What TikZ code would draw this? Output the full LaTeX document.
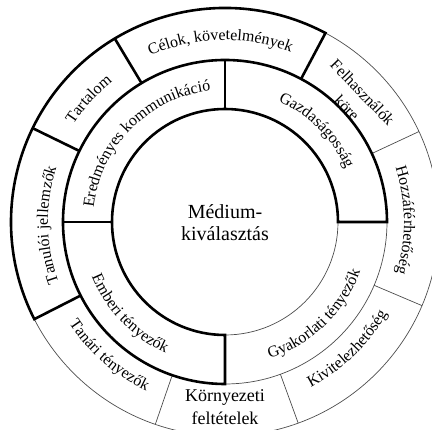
\documentclass[tikz,border=0pt]{standalone}
\usepackage{fontspec}
\setmainfont{Liberation Serif}
\usetikzlibrary{decorations.text}

\newcommand\lblfont{\fontsize{16}{19}\selectfont}

\begin{document}
\begin{tikzpicture}[
    x=1pt, y=1pt,
    thinline/.style={line width=0.7pt, draw=black!70},
    thickline/.style={line width=2.6pt, line join=miter},
    arclabel/.style={decorate, decoration={text along path, text align=center, text={|\lblfont|#1}}},
  ]
    \useasboundingbox (-225,-208) rectangle (207,222);
    \clip (-225,-208) rectangle (207,222);
    % thin circles and dividers
    \draw[thinline] (0,0) circle[radius=113pt];
    \draw[thinline] (0,0) circle[radius=162pt];
    \draw[thinline] (0,0) circle[radius=214pt];
    \foreach \a in {25,251,290,337}
        \draw[thinline] (\a:162pt) -- (\a:214pt);
    % thick outline
    \draw[thickline] (0:113pt) arc[start angle=0, end angle=270, radius=113pt] -- (270:162pt)
        arc[start angle=270, end angle=0, radius=162pt] -- cycle;
    \draw[thickline] (90:113pt) -- (90:162pt);
    \draw[thickline] (180:113pt) -- (180:162pt);
    \draw[thickline] (62:162pt) -- (62:214pt) arc[start angle=62, end angle=207, radius=214pt] -- (207:162pt);
    \draw[thickline] (121:162pt) -- (121:214pt);
    \draw[thickline] (154:162pt) -- (154:214pt);
    % middle ring labels
    \path[arclabel={Eredményes kommunikáció}] (215:132pt) arc[start angle=215, end angle=55, radius=132pt];
    \path[arclabel={Gazdaságosság}] (105:132pt) arc[start angle=105, end angle=-15, radius=132pt];
    \path[arclabel={Emberi tényezők}] (164:144pt) arc[start angle=164, end angle=284, radius=144pt];
    \path[arclabel={Gyakorlati tényezők}] (254:144pt) arc[start angle=254, end angle=374, radius=144pt];
    % outer ring labels
    \path[arclabel={Célok, követelmények}] (151.5:182pt) arc[start angle=151.5, end angle=31.5, radius=182pt];
    \path[arclabel={Tartalom}] (198:180pt) arc[start angle=198, end angle=78, radius=180pt];
    \path[arclabel={Tanulói jellemzők}] (241:177pt) arc[start angle=241, end angle=121, radius=177pt];
    \path[arclabel={Hozzáférhetőség}] (60.5:179pt) arc[start angle=60.5, end angle=-59.5, radius=179pt];
    \path[arclabel={Tanári tényezők}] (169:186pt) arc[start angle=169, end angle=289, radius=186pt];
    \path[arclabel={Kivitelezhetőség}] (254:186pt) arc[start angle=254, end angle=374, radius=186pt];
    \node[rotate=-46, align=center, font={\fontsize{16}{22}\selectfont}] (felhasznalok) at (43.2:178pt) {Felhasználók\\köre};
    \node[align=center, font={\fontsize{18}{23}\selectfont}] (kornyezet) at (0,-185) {Környezeti\\feltételek};
    % centre
    \node[align=center, font={\fontsize{20}{22}\selectfont}] (medium) at (0,-1) {Médium-\\kiválasztás};
\end{tikzpicture}
\end{document}
